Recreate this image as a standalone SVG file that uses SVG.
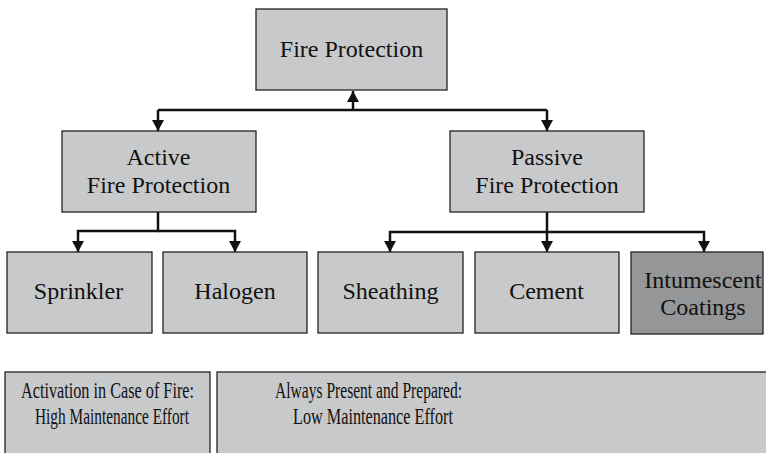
<svg xmlns="http://www.w3.org/2000/svg" width="766" height="453" viewBox="0 0 766 453" font-family="'Liberation Serif', 'Times New Roman', serif">
<style>
.box{fill:#c8c9cb;stroke:#222;stroke-width:1.3}
.dark{fill:#959698}
text{font-family:'Liberation Serif','Times New Roman',serif;fill:#111}
.t{font-size:24px;text-anchor:middle}
.b{font-size:23px}
.c{fill:none;stroke:#111;stroke-width:2.5}
</style>
<defs>
<marker id="ah" markerUnits="userSpaceOnUse" markerWidth="13" markerHeight="12" refX="11" refY="6" orient="auto">
<path d="M0,0 L11,6 L0,12 Z" fill="#111"/>
</marker>
</defs>
<rect width="766" height="453" fill="#fff"/>
<g id="connectors">
<path class="c" d="M158,110 H547"/>
<path class="c" d="M353,110 V91" marker-end="url(#ah)"/>
<path class="c" d="M158,110 V131" marker-end="url(#ah)"/>
<path class="c" d="M547,110 V131" marker-end="url(#ah)"/>
<path class="c" d="M158,212 V231 H78 V252" marker-end="url(#ah)"/>
<path class="c" d="M158,231 H235 V252" marker-end="url(#ah)"/>
<path class="c" d="M547,212 V252" marker-end="url(#ah)"/>
<path class="c" d="M547,232 H390 V252" marker-end="url(#ah)"/>
<path class="c" d="M547,232 H704 V252" marker-end="url(#ah)"/>
</g>
<g id="fire-protection">
<rect class="box" x="256" y="9" width="191" height="81"/>
<text class="t" x="351.5" y="57">Fire Protection</text>
</g>
<g id="active">
<rect class="box" x="62" y="131" width="194" height="81"/>
<text class="t" x="158.5" y="165">Active</text>
<text class="t" x="158.5" y="193">Fire Protection</text>
</g>
<g id="passive">
<rect class="box" x="450" y="131" width="194" height="81"/>
<text class="t" x="547" y="165">Passive</text>
<text class="t" x="547" y="193">Fire Protection</text>
</g>
<g id="sprinkler">
<rect class="box" x="7" y="252" width="145" height="81"/>
<text class="t" x="78.5" y="299">Sprinkler</text>
</g>
<g id="halogen">
<rect class="box" x="163" y="252" width="144" height="81"/>
<text class="t" x="235" y="299">Halogen</text>
</g>
<g id="sheathing">
<rect class="box" x="318" y="252" width="145" height="81"/>
<text class="t" x="390.5" y="299">Sheathing</text>
</g>
<g id="cement">
<rect class="box" x="475" y="252" width="144" height="81"/>
<text class="t" x="546.5" y="299">Cement</text>
</g>
<g id="intumescent">
<rect class="box dark" x="631" y="252" width="132" height="82"/>
<text class="t" x="703" y="288">Intumescent</text>
<text class="t" x="703" y="315">Coatings</text>
</g>
<g id="active-note">
<rect class="box" x="5" y="372" width="205" height="90"/>
<text class="b" x="21" y="398" textLength="173" lengthAdjust="spacingAndGlyphs">Activation in Case of Fire:</text>
<text class="b" x="35" y="424" textLength="154" lengthAdjust="spacingAndGlyphs">High Maintenance Effort</text>
</g>
<g id="passive-note">
<rect class="box" x="217" y="372" width="560" height="90"/>
<text class="b" x="275" y="398" textLength="187" lengthAdjust="spacingAndGlyphs">Always Present and Prepared:</text>
<text class="b" x="293" y="424" textLength="160" lengthAdjust="spacingAndGlyphs">Low Maintenance Effort</text>
</g>
</svg>
